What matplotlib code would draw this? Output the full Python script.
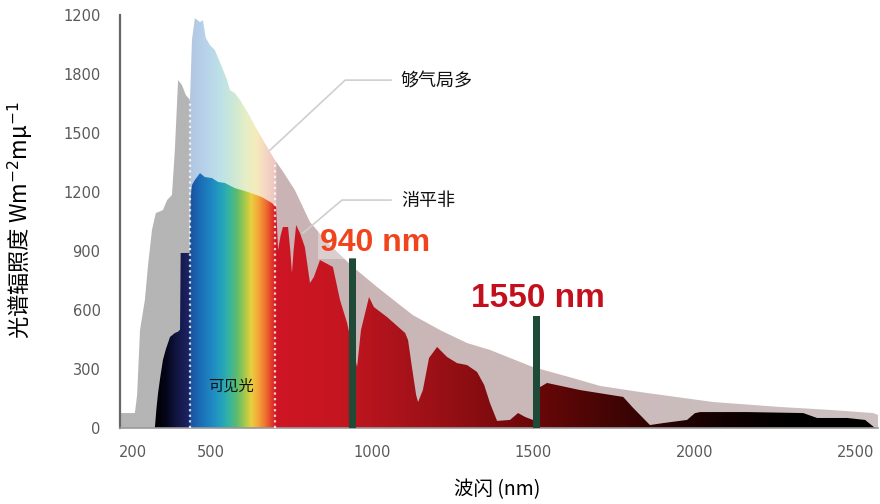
import numpy as np
import matplotlib.pyplot as plt
from matplotlib.colors import to_rgb
from matplotlib.patches import Polygon

plt.rcParams['font.family'] = ['Noto Sans CJK SC', 'DejaVu Sans']

# Spectrum outside the atmosphere (upper envelope)
upper_wl = [218, 221, 264, 271, 280, 295, 305, 317, 329, 351, 364, 379, 388, 398, 410, 422, 435,
            441, 450, 466, 475, 484, 497, 512, 534, 550, 559, 574, 590, 615, 640, 667, 698, 720,
            760, 807, 869, 940, 1015, 1086, 1126, 1210, 1294, 1365, 1498, 1622, 1706, 1830, 2057,
            2264, 2419, 2553, 2568]
upper_e = [0, 76, 76, 168, 498, 651, 829, 1007, 1093, 1108, 1159, 1185, 1413, 1769, 1744, 1693, 1668,
           1973, 2084, 2064, 2074, 1983, 1947, 1922, 1835, 1769, 1718, 1703, 1668, 1601, 1525, 1449, 1363, 1312,
           1210, 1047, 930, 819, 717, 625, 574, 498, 432, 397, 310, 254, 214, 183, 132,
           107, 92, 76, 66]

# Spectrum at sea level (lower)
lower_wl = [326, 331, 336, 342, 351, 360, 373, 388, 398, 404, 406, 434, 437, 441, 450, 466, 481, 503,
            522, 543, 574, 615, 658, 689, 702, 708, 716, 723, 739, 746, 751, 756, 764, 776, 791, 807,
            819, 838, 878, 900, 922, 937, 953, 965, 990, 1005, 1046, 1102, 1111, 1123, 1136, 1142,
            1157, 1176, 1201, 1232, 1263, 1294, 1325, 1347, 1365, 1387, 1427, 1452, 1474, 1498, 1512,
            1520, 1542, 1644, 1778, 1809, 1861, 1902, 1976, 2000, 2016, 2162, 2336, 2379, 2472, 2528, 2559]
lower_e = [0, 100, 178, 250, 346, 400, 463, 483, 490, 500, 890, 890, 1180, 1235, 1261, 1296, 1276, 1271,
           1251, 1246, 1220, 1200, 1174, 1144, 1124, 905, 980, 1022, 1022, 900, 788, 900, 1032, 991, 920, 737,
           768, 854, 819, 651, 534, 422, 310, 498, 666, 615, 564, 483, 447, 310, 168, 132,
           193, 356, 412, 361, 330, 320, 285, 219, 127, 36, 41, 76, 56, 41, 100,
           208, 229, 193, 158, 102, 15, 25, 41, 75, 81, 81, 76, 51, 51, 41, 0]

yticks = [0, 300, 600, 900, 1200, 1500, 1800, 2100]
ytick_labels = ['0', '300', '600', '900', '1200', '1500', '1800', '1200']
xticks = [258, 500, 1000, 1500, 2000, 2500]
xtick_labels = ['200', '500', '1000', '1500', '2000', '2500']

marker_wl = [939, 1509]
marker_e = [864, 569]
marker_labels = ['940 nm', '1550 nm']
visible_edges = [435, 700]

XMIN, XMAX, YMAX = 218, 2568, 2100

upper_stops = [(218, '#b5b5b5'), (434, '#b5b5b5'), (435, '#b3c6e2'), (480, '#b7d2ea'),
               (530, '#bde2e8'), (570, '#cde8d6'), (610, '#e6efc4'), (640, '#f6ebbc'),
               (670, '#f5d6c4'), (698, '#eec5c2'), (705, '#c9b3b4'), (2568, '#cdc1c1')]
lower_stops = [(326, '#000000'), (360, '#05051a'), (400, '#141848'), (434, '#1c2466'),
               (435, '#1b4f9a'), (460, '#1a68b2'), (500, '#1f86c2'), (530, '#22a0bd'),
               (555, '#35b3a4'), (580, '#5cbb6e'), (605, '#a6c94a'), (625, '#eacf3e'),
               (645, '#f3a93a'), (668, '#ef7430'), (690, '#e0362a'), (702, '#cf1525'),
               (900, '#c41620'), (1100, '#a8121a'), (1300, '#8c0e12'), (1500, '#6a0708'),
               (1700, '#4a0505'), (1900, '#2a0303'), (2100, '#100101'), (2300, '#000000'),
               (2568, '#000000')]


def gradient_fill(ax, x, y, stops, z):
    """Fill under a curve with a horizontal colour gradient"""
    verts = np.column_stack([np.r_[x[0], x, x[-1]], np.r_[0, y, 0]])
    patch = Polygon(verts, closed=True, facecolor='none', edgecolor='none')
    ax.add_patch(patch)
    xs = np.linspace(XMIN, XMAX, 3000)
    pos = [p for p, _ in stops]
    cols = np.array([to_rgb(c) for _, c in stops])
    img = np.stack([np.interp(xs, pos, cols[:, i]) for i in range(3)], axis=-1)[None, :, :]
    im = ax.imshow(img, extent=[XMIN, XMAX, 0, YMAX], aspect='auto', origin='lower',
                   interpolation='bilinear', zorder=z)
    im.set_clip_path(patch)


fig = plt.figure(figsize=(8.8, 5.04), dpi=100)
ax = fig.add_axes([0.1364, 0.1508, 0.8613, 0.8194])

gradient_fill(ax, upper_wl, upper_e, upper_stops, 1)
gradient_fill(ax, lower_wl, lower_e, lower_stops, 2)

# Visible range borders (dotted)
for wl in visible_edges:
    ax.plot([wl, wl], [0, np.interp(wl, upper_wl, upper_e)], color='white',
            linestyle=(0, (1, 1.5)), linewidth=1.6, alpha=0.8, zorder=3)

# 940 / 1550 markers
ax.bar(marker_wl, marker_e, width=22, color='#1f4a37', zorder=4)

# Callout lines and labels
ax.plot([683, 916, 1058], [1413, 1769, 1769], color='#cfcfcf', linewidth=1.2, zorder=3)
ax.plot([785, 906, 1058], [991, 1159, 1159], color='#cfcfcf', linewidth=1.2, zorder=3)
ax.text(1089, 1764, '够气局多', fontsize=13, va='center', ha='left', color='#111111')
ax.text(1089, 1154, '消平非', fontsize=13, va='center', ha='left', color='#111111')
ax.text(562, 214, '可见光', fontsize=11, va='center', ha='center', color='#111111', zorder=5)

ax.text(1008, 940, marker_labels[0], fontsize=23, fontweight='bold', color='#f0451c',
        family='Liberation Sans', ha='center', va='center', zorder=5,
        bbox=dict(fc='white', ec='none', alpha=0.35, pad=1))
ax.text(1514, 656, marker_labels[1], fontsize=24, fontweight='bold', color='#c4101c',
        family='Liberation Sans', ha='center', va='center', zorder=5,
        bbox=dict(fc='white', ec='none', alpha=0.35, pad=1))

# Axes styling
ax.set_xlim(XMIN, XMAX)
ax.set_ylim(0, YMAX)
ax.set_xticks(xticks)
ax.set_xticklabels(xtick_labels)
ax.set_yticks(yticks)
ax.set_yticklabels(ytick_labels)
ax.tick_params(length=0, labelsize=10.5, labelcolor='#5a5a5a')
ax.tick_params(axis='y', pad=14)
ax.tick_params(axis='x', pad=12)
for lab in ax.get_xticklabels() + ax.get_yticklabels():
    lab.set_family('DejaVu Sans')
ax.spines['top'].set_visible(False)
ax.spines['right'].set_visible(False)
ax.spines['left'].set_color('#666666')
ax.spines['left'].set_linewidth(1.6)
ax.spines['bottom'].set_color('#999999')
ax.spines['bottom'].set_linewidth(1.2)

fig.text(0.024, 0.563, '光谱辐照度 Wm$^{-2}$mμ$^{-1}$', rotation=90, fontsize=16,
         ha='center', va='center')
fig.text(0.565, 0.028, '波闪 (nm)', fontsize=14, ha='center', va='center')

fig.savefig('out.png', dpi=100)
